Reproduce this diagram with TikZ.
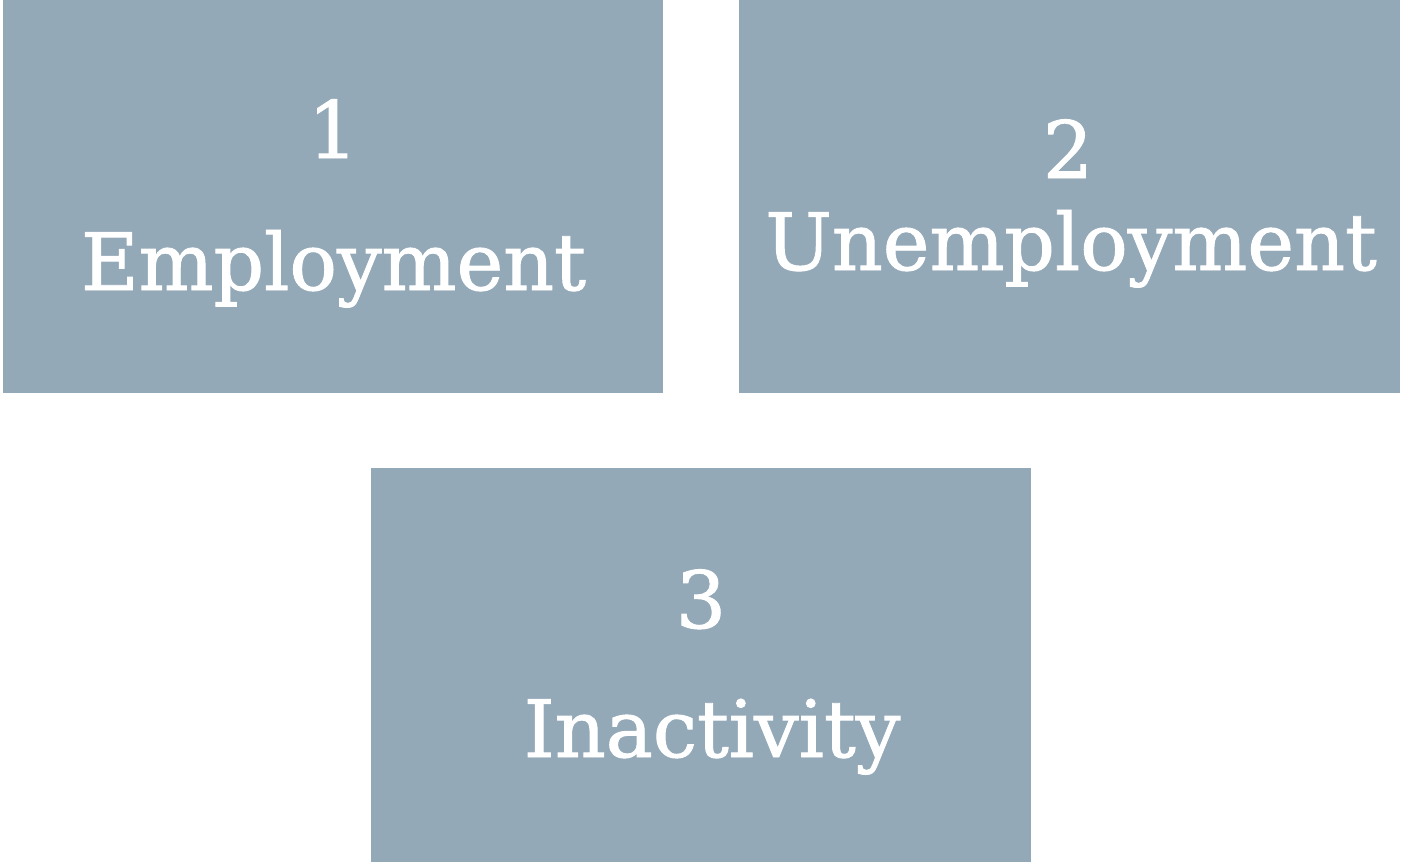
\documentclass[tikz,border=0pt]{standalone}
\usepackage{fontspec}
\setmainfont{DejaVu Serif}
\newfontfamily\slabfont[FakeBold=1.2]{DejaVu Serif}
\definecolor{boxfill}{HTML}{94A9B8}
\begin{document}
\begin{tikzpicture}[x=1pt,y=-1pt,
  panel/.style={fill=boxfill,draw=none},
  label/.style={text=white,anchor=base,inner sep=0pt,font=\slabfont\fontsize{79}{90}\selectfont}]
\useasboundingbox (0,0) rectangle (1401,862);
\fill[white] (0,0) rectangle (1401,862);
\path[panel] (3,0) rectangle (663,393);
\path[panel] (739,0) rectangle (1400,393);
\path[panel] (371,468) rectangle (1031,862);
\node[label] (n1) at (333,158) {1};
\node[label] (t1) at (333.5,290) {Employment};
\node[label] (n2) at (1068,178) {2};
\node[label] (t2) at (1071,270) {Unemployment};
\node[label] (n3) at (701,628) {3};
\node[label] (t3) at (712,757) {Inactivity};
\end{tikzpicture}
\end{document}
